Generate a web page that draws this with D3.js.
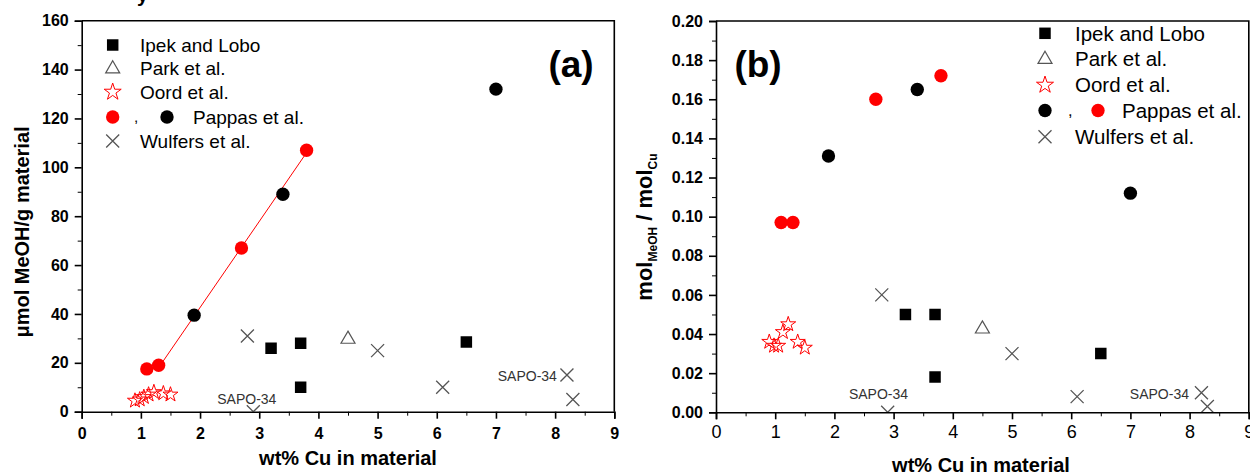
<!DOCTYPE html>
<html><head><meta charset="utf-8">
<script src="https://cdn.jsdelivr.net/npm/d3@7"></script>
<style>
html,body{margin:0;padding:0;background:#fff;}
svg{display:block;}
text{font-family:"Liberation Sans",Arial,sans-serif;}
</style></head>
<body>
<svg id="c" width="1250" height="474"></svg>
<script>
// ---------- DATA ----------
const ticksX = [0,1,2,3,4,5,6,7,8,9];
const ticksYa = [0,20,40,60,80,100,120,140,160];
const ticksYb = [0,0.02,0.04,0.06,0.08,0.10,0.12,0.14,0.16,0.18,0.20];

const ipekX = [3.2, 3.7, 3.7, 6.5];
const ipekA = [26, 28, 10, 28.5];
const ipekB = [0.050, 0.050, 0.018, 0.030];

const parkX = [4.5];
const parkA = [30];
const parkB = [0.043];

const oordX = [0.9, 0.98, 1.05, 1.13, 1.22, 1.38, 1.5];
const oordA = [4.5, 5, 6, 7, 8, 7.5, 7];
const oordB = [0.036, 0.034, 0.034, 0.041, 0.045, 0.036, 0.033];

const pappasRedX = [1.1, 1.3, 2.7, 3.8];
const pappasRedA = [17.5, 19, 67, 107];
const pappasRedB = [0.097, 0.097, 0.160, 0.172];

const pappasBlackX = [1.9, 3.4, 7.0];
const pappasBlackA = [39.5, 89, 132];
const pappasBlackB = [0.131, 0.165, 0.112];

const wulfersX = [2.8, 2.9, 5.0, 6.1, 8.2, 8.3];
const wulfersA = [31, 0, 25, 10, 15, 5];
const wulfersB = [0.060, 0.000, 0.030, 0.008, 0.010, 0.003];

const fitLineX = [1.3, 3.8];
const fitLineA = [18, 106];

const sapoA = [[2.79, "SAPO-34", 3.2], [7.53, "SAPO-34", 12.7]];
const sapoB = [[2.745, "SAPO-34", 0.0066], [7.49, "SAPO-34", 0.0066]];

const legendLabels = ["Ipek and Lobo", "Park et al.", "Oord et al.", "Pappas et al.", "Wulfers et al."];

// ---------- DRAW ----------
const svg = d3.select("#c");
const RED = "#ff0000", GRAY = "#555";

const crossType = {draw(ctx, size){ const r = Math.sqrt(size)/2; ctx.moveTo(-r,-r); ctx.lineTo(r,r); ctx.moveTo(r,-r); ctx.lineTo(-r,r);} };
const triType = {draw(ctx, size){ const s = Math.sqrt(size); const h = s*0.866; ctx.moveTo(0,-h*0.6); ctx.lineTo(s/2,h*0.4); ctx.lineTo(-s/2,h*0.4); ctx.closePath();} };

const sym = {
  square: d3.symbol(d3.symbolSquare, 132)(),
  circle: d3.symbol(d3.symbolCircle, 140)(),
  star: d3.symbol(d3.symbolStar, 70)(),
  tri: d3.symbol(triType, 196)(),
  cross: d3.symbol(crossType, 169)()
};
const styles = {
  square: g => g.attr("fill","#000"),
  circleRed: g => g.attr("fill",RED),
  circleBlack: g => g.attr("fill","#000"),
  star: g => g.attr("fill","none").attr("stroke",RED).attr("stroke-width",1),
  tri: g => g.attr("fill","none").attr("stroke",GRAY).attr("stroke-width",1.2),
  cross: g => g.attr("fill","none").attr("stroke",GRAY).attr("stroke-width",1.3)
};

function marker(g, type, style, x, y){
  g.append("path").attr("d", sym[type]).attr("transform",`translate(${x},${y})`).call(styles[style]);
}

function panel(cfg){
  const {x, y, id} = cfg;
  const g = svg.append("g");
  const [x0,x1] = x.range(), [y0,y1] = y.range();
  g.append("clipPath").attr("id","clip"+id).append("rect")
    .attr("x",x0).attr("y",y1).attr("width",x1-x0).attr("height",y0-y1);

  // frame top/right
  g.append("path").attr("d",`M${x0},${y1}H${x1}V${y0}`).attr("fill","none").attr("stroke","#000").attr("stroke-width",1.6);

  const plot = g.append("g").attr("clip-path",`url(#clip${id})`);

  if (cfg.fit){
    plot.append("path").datum(d3.zip(fitLineX, cfg.fit))
      .attr("d", d3.line().x(d=>x(d[0])).y(d=>y(d[1])))
      .attr("stroke",RED).attr("stroke-width",1).attr("fill","none");
  }
  const series = [
    [wulfersX, cfg.wul, "cross", "cross"],
    [ipekX, cfg.ipek, "square", "square"],
    [parkX, cfg.park, "tri", "tri"],
    [oordX, cfg.oord, "star", "star"],
    [pappasRedX, cfg.red, "circle", "circleRed"],
    [pappasBlackX, cfg.black, "circle", "circleBlack"]
  ];
  series.forEach(([xs, ys, t, s]) => {
    plot.selectAll(null).data(d3.zip(xs, ys)).enter().append("path")
      .attr("d", sym[t]).attr("transform", d=>`translate(${x(d[0])},${y(d[1])})`).call(styles[s]);
  });
  // SAPO labels
  g.selectAll(null).data(cfg.sapo).enter().append("text")
    .attr("x", d=>x(d[0])).attr("y", d=>y(d[2])).attr("text-anchor","middle")
    .attr("font-size",14).attr("fill","#333").text(d=>d[1]);

  // axes
  const ax = g.append("g").attr("transform",`translate(0,${y0})`)
    .call(d3.axisBottom(x).tickValues(ticksX).tickSize(7).tickPadding(cfg.xPad).tickFormat(d3.format("d")));
  g.append("g").attr("transform",`translate(0,${y0})`)
    .call(d3.axisBottom(x).tickValues(d3.range(0.5,9,1)).tickSize(4).tickFormat(""))
    .call(a=>a.select(".domain").remove());
  ax.select(".domain").attr("stroke-width",1.6);
  ax.selectAll(".tick line").attr("stroke-width",1.6);
  ax.selectAll("text").attr("font-size",cfg.xFs).attr("font-weight",cfg.xBold?"bold":"normal")
    .attr("font-family","Liberation Sans, Arial, sans-serif").attr("fill","#000");

  const ay = g.append("g").attr("transform",`translate(${x0},0)`)
    .call(d3.axisLeft(y).tickValues(cfg.yt).tickSize(7).tickPadding(6).tickFormat(cfg.yf));
  g.append("g").attr("transform",`translate(${x0},0)`)
    .call(d3.axisLeft(y).tickValues(cfg.ym).tickSize(4).tickFormat(""))
    .call(a=>a.select(".domain").remove());
  ay.select(".domain").attr("stroke-width",1.6);
  ay.selectAll(".tick line").attr("stroke-width",1.6);
  ay.selectAll("text").attr("font-size",16).attr("font-weight","bold")
    .attr("font-family","Liberation Sans, Arial, sans-serif").attr("fill","#000");
  g.selectAll(".tick line").attr("stroke","#000");

  // legend
  const L = cfg.leg;
  const lg = g.append("g").attr("font-size",L.fs).attr("fill","#000");
  L.rows.forEach((ry,i)=>{
    const tx = i===3 ? L.pTx : L.tx;
    lg.append("text").attr("x",tx).attr("y",ry).attr("dy","0.36em").text(legendLabels[i]);
  });
  marker(lg,"square","square",L.mx,L.rows[0]);
  marker(lg,"tri","tri",L.mx,L.rows[1]);
  lg.append("path").attr("d", d3.symbol(d3.symbolStar, 90)()).attr("transform",`translate(${L.mx},${L.rows[2]})`).call(styles.star);
  marker(lg,"circle",L.p1,L.mx,L.rows[3]);
  lg.append("text").attr("x",L.cx).attr("y",L.rows[3]).attr("dy","0.36em").attr("font-size",L.fs*0.8).text(",");
  marker(lg,"circle",L.p2,L.p2x,L.rows[3]);
  marker(lg,"cross","cross",L.mx,L.rows[4]);

  // panel label
  g.append("text").attr("x",cfg.lab[0]).attr("y",cfg.lab[1]).attr("text-anchor","middle")
    .attr("font-family","Open Sans, sans-serif").attr("font-weight","bold").attr("font-size",37).text(cfg.lab[2]);
  return g;
}

const xA = d3.scaleLinear().domain([0,9]).range([81.7,614.3]);
const yA = d3.scaleLinear().domain([0,160]).range([411.7,20.7]);
const xB = d3.scaleLinear().domain([0,9]).range([716,1248.8]);
const yB = d3.scaleLinear().domain([0,0.2]).range([412.3,21]);

const gA = panel({id:"a", x:xA, y:yA, fit:fitLineA, wul:wulfersA, ipek:ipekA, park:parkA, oord:oordA,
  red:pappasRedA, black:pappasBlackA, sapo:sapoA, xBold:true, xFs:16, xPad:9, yt:ticksYa, ym:d3.range(10,160,20), yf:d3.format("d"),
  leg:{fs:19, rows:[45,68,92,117,141], mx:112.7, tx:140, pTx:193, cx:134, p1:"circleRed", p2:"circleBlack", p2x:167},
  lab:[571,77,"(a)"]});
const gB = panel({id:"b", x:xB, y:yB, wul:wulfersB, ipek:ipekB, park:parkB, oord:oordB,
  red:pappasRedB, black:pappasBlackB, sapo:sapoB, xBold:false, xFs:18, xPad:6, yt:ticksYb, ym:d3.range(0.01,0.2,0.02), yf:d3.format(".2f"),
  leg:{fs:20.5, rows:[33.3,58.5,85,110.5,136.7], mx:1045, tx:1075, pTx:1122, cx:1068, p1:"circleBlack", p2:"circleRed", p2x:1098},
  lab:[758,77,"(b)"]});

// axis titles
svg.append("text").attr("x",348).attr("y",465).attr("text-anchor","middle").attr("font-weight","bold").attr("font-size",20).text("wt% Cu in material");
svg.append("text").attr("x",981).attr("y",472).attr("text-anchor","middle").attr("font-weight","bold").attr("font-size",20).text("wt% Cu in material");
svg.append("text").attr("transform","translate(29,232) rotate(-90)").attr("text-anchor","middle").attr("font-weight","bold").attr("font-size",20).text("μmol MeOH/g material");
const tB = svg.append("text").attr("transform","translate(652,227) rotate(-90)").attr("text-anchor","middle").attr("font-weight","bold").attr("font-size",22);
tB.append("tspan").text("mol");
tB.append("tspan").attr("font-size",12).attr("dy",5).text("MeOH");
tB.append("tspan").attr("dy",-5).text(" / mol");
tB.append("tspan").attr("font-size",12).attr("dy",5).text("Cu");
// cropped title remnant at top
svg.append("text").attr("x",137).attr("y",2).attr("font-weight","bold").attr("font-size",20).text("y");
</script>
</body></html>
